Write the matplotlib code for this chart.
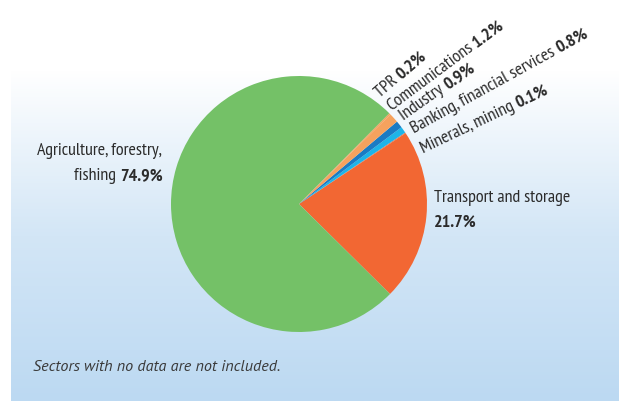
import matplotlib
matplotlib.use("Agg")
import matplotlib.pyplot as plt
import numpy as np
from matplotlib import font_manager
from matplotlib.transforms import IdentityTransform
from matplotlib.colors import LinearSegmentedColormap

sectors = ["Transport and storage", "Minerals, mining", "Banking, financial services",
           "Industry", "Communications", "TPR", "Agriculture, forestry, fishing"]
shares = [21.7, 0.1, 0.8, 0.9, 1.2, 0.2, 74.9]
share_labels = ["21.7%", "0.1%", "0.8%", "0.9%", "1.2%", "0.2%", "74.9%"]
colors = ["#f26733", "#f26733", "#1db4e8", "#1a7bc4", "#f5a25e", "#f5a25e", "#74c167"]
footnote = "Sectors with no data are not included."

names = set(f.name for f in font_manager.fontManager.ttflist)


def pick(cands):
    for c in cands:
        if c in names:
            return c
    return "DejaVu Sans"


FONT = pick(["PT Sans Narrow", "Fira Sans Extra Condensed", "Fira Sans Condensed", "Roboto Condensed",
             "Encode Sans Condensed", "Archivo Narrow", "Asap Condensed", "Barlow Semi Condensed"])
FOOT = pick(["Myriad Pro", "PT Sans", "Fira Sans", "Noto Sans"])
plt.rcParams["font.family"] = [FONT, "DejaVu Sans"]

W, H = 619, 401
fig = plt.figure(figsize=(W / 100, H / 100), dpi=100)
fig.patch.set_facecolor("white")

# gradient background box
bg = fig.add_axes([11 / W, 0, (W - 11) / W, 1 - 70 / H])
bg.set_axis_off()
grad = np.linspace(0, 1, 256).reshape(-1, 1)
cmap = LinearSegmentedColormap.from_list("g", ["#bcd9f2", "#d3e6f6", "#ffffff"])
bg.imshow(grad, aspect="auto", cmap=cmap, extent=[0, 1, 0, 1], origin="lower")
bg.set_xlim(0, 1)
bg.set_ylim(0, 1)

cx, cy, r = 299, 204, 128
ax = fig.add_axes([(cx - r) / W, (H - cy - r) / H, 2 * r / W, 2 * r / H])
ax.pie(shares, colors=colors, startangle=-44.7, counterclock=True,
       wedgeprops=dict(linewidth=0))
ax.set_xlim(-1, 1)
ax.set_ylim(-1, 1)
ax.set_axis_off()

fig.canvas.draw()
renderer = fig.canvas.get_renderer()
TXT = "#2b2b2b"
ID = IdentityTransform()


def width(s, fs, family, **kw):
    if not s:
        return 0.0
    t = fig.text(0, 0, s, fontsize=fs, family=family, **kw)
    w = t.get_window_extent(renderer).width
    t.remove()
    return w


FS = 10 * 138 / width(sectors[0], 10, FONT)
FFS = 10 * 249 / width(footnote, 10, FOOT, style="italic")


def label(x, y, normal, bold, angle=0, ha="left", fs=None):
    fs = fs or FS
    yd = H - y
    w1 = width(normal + " ", fs, FONT) if normal else 0.0
    w2 = width(bold, fs, FONT, fontweight="bold")
    a = np.deg2rad(angle)
    if ha == "right":
        x = x - (w1 + w2)
    if normal:
        fig.text(x, yd, normal + " ", fontsize=fs, rotation=angle, rotation_mode="anchor",
                 ha="left", va="baseline", transform=ID, color=TXT)
    fig.text(x + w1 * np.cos(a), yd + w1 * np.sin(a), bold, fontsize=fs, fontweight="bold",
             rotation=angle, rotation_mode="anchor", ha="left", va="baseline",
             transform=ID, color=TXT)


fig.text(162, H - 155, "Agriculture, forestry,", fontsize=FS, ha="right", va="baseline",
         transform=ID, color=TXT)
label(163, 180, "fishing", share_labels[6], ha="right")
fig.text(434, H - 202, sectors[0], fontsize=FS, ha="left", va="baseline",
         transform=ID, color=TXT)
label(434, 227, "", share_labels[0])

label(380, 98, sectors[5], share_labels[5], angle=40.7)
label(392, 111, sectors[4], share_labels[4], angle=36.6)
label(404, 121, sectors[3], share_labels[3], angle=35.4)
label(414, 133, sectors[2], share_labels[2], angle=28.9)
label(423, 153, sectors[1], share_labels[1], angle=25.5)

fig.text(33, H - 371, footnote, fontsize=FFS, family=FOOT,
         style="italic", ha="left", va="baseline", transform=ID, color="#3a3a3a")

fig.savefig("out.png", dpi=100, facecolor="white")
